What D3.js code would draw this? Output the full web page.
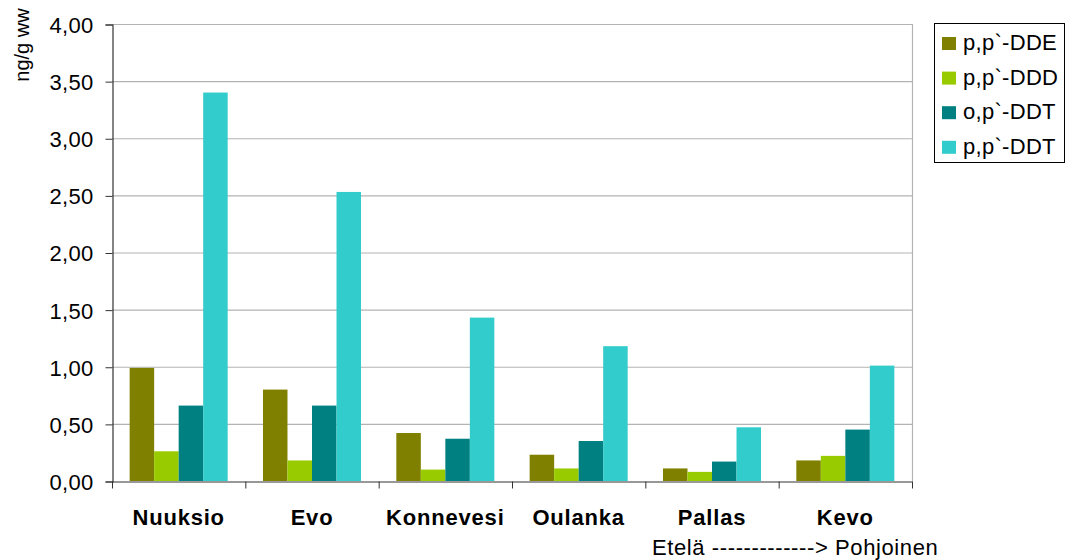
<!DOCTYPE html>
<html>
<head>
<meta charset="utf-8">
<script src="https://cdn.jsdelivr.net/npm/d3@7"></script>
<style>
  html, body { margin: 0; padding: 0; background: #fff; }
  svg { display: block; font-family: "Liberation Sans", Arial, sans-serif; }
</style>
</head>
<body>
<svg id="chart" width="1066" height="560"></svg>
<script>
// Sampling sites, south to north
const sites = ["Nuuksio", "Evo", "Konnevesi", "Oulanka", "Pallas", "Kevo"];
const seriesNames = ["p,p`-DDE", "p,p`-DDD", "o,p`-DDT", "p,p`-DDT"];
const seriesColors = ["#808000", "#99CC00", "#008080", "#33CCCC"];

// Concentrations, ng/g ww
const ppDDE = [0.99, 0.80, 0.42, 0.23, 0.11, 0.18];
const ppDDD = [0.26, 0.18, 0.10, 0.11, 0.08, 0.22];
const opDDT = [0.66, 0.66, 0.37, 0.35, 0.17, 0.45];
const ppDDT = [3.40, 2.53, 1.43, 1.18, 0.47, 1.01];

const yTicks = [0, 0.5, 1, 1.5, 2, 2.5, 3, 3.5, 4];
const yLabel = "ng/g ww";
const directionLabel = "Etelä -------------> Pohjoinen";

const seriesValues = [ppDDE, ppDDD, opDDT, ppDDT];
const rows = sites.map((s, i) => ({
  site: s,
  values: seriesNames.map((n, k) => ({ name: n, k, value: seriesValues[k][i] }))
}));

const svg = d3.select("#chart");
const plot = { left: 112, right: 912, top: 24, bottom: 481 };

const x = d3.scaleBand().domain(sites).range([plot.left, plot.right]).paddingInner(0).paddingOuter(0);
const gap = 1.44; // gap between clusters, in bar widths
const barW = x.bandwidth() / (seriesNames.length + gap);
const x1 = d3.scaleBand().domain(seriesNames)
  .range([barW * gap / 2, barW * gap / 2 + barW * seriesNames.length]).padding(0);
const y = d3.scaleLinear().domain([0, 4]).range([plot.bottom, plot.top]);

const fmt = v => d3.format(".2f")(v).replace(".", ",");

// Horizontal gridlines
svg.append("g")
  .selectAll("line")
  .data(yTicks.filter(t => t > 0))
  .join("line")
  .attr("x1", plot.left).attr("x2", plot.right)
  .attr("y1", d => y(d) + 0.5).attr("y2", d => y(d) + 0.5)
  .attr("stroke", "#b3b3b3").attr("stroke-width", 1.2);

// Plot area right border
svg.append("line")
  .attr("x1", plot.right + 0.5).attr("x2", plot.right + 0.5)
  .attr("y1", plot.top).attr("y2", plot.bottom)
  .attr("stroke", "#b3b3b3").attr("stroke-width", 1.2);

// Bars
svg.append("g")
  .selectAll("g")
  .data(rows)
  .join("g")
  .attr("transform", d => `translate(${x(d.site)},0)`)
  .selectAll("rect")
  .data(d => d.values)
  .join("rect")
  .attr("x", d => x1(d.name))
  .attr("width", x1.bandwidth())
  .attr("y", d => y(d.value))
  .attr("height", d => y(0) - y(d.value))
  .attr("fill", d => seriesColors[d.k]);

// Y axis
const yAxis = d3.axisLeft(y).tickValues(yTicks).tickFormat(fmt).tickSize(7).tickPadding(12);
const gy = svg.append("g")
  .attr("transform", `translate(${plot.left + 0.5},0.5)`)
  .call(yAxis);
gy.select(".domain").attr("stroke", "#333").attr("stroke-width", 1.2);
gy.selectAll(".tick line").attr("stroke", "#333");
gy.selectAll(".tick text")
  .attr("font-family", "'Liberation Sans', Arial, sans-serif")
  .attr("font-size", 22).attr("letter-spacing", 0.3)
  .attr("fill", "#000").attr("dy", "0.36em");

// X axis with ticks between categories
const xAxis = d3.axisBottom(x).tickSize(0).tickFormat("");
const gx = svg.append("g")
  .attr("transform", `translate(0,${plot.bottom + 0.5})`)
  .call(xAxis);
gx.select(".domain").attr("stroke", "#333").attr("stroke-width", 1.2);
gx.selectAll(".tick").remove();
gx.selectAll("line.sep")
  .data(sites.concat(["end"]))
  .join("line")
  .attr("class", "sep")
  .attr("x1", (d, i) => (i < sites.length ? x(d) : plot.right) + 0.5)
  .attr("x2", (d, i) => (i < sites.length ? x(d) : plot.right) + 0.5)
  .attr("y1", 0).attr("y2", 7)
  .attr("stroke", "#333");

// Category labels
svg.append("g")
  .selectAll("text")
  .data(sites)
  .join("text")
  .attr("x", d => x(d) + x.bandwidth() / 2)
  .attr("y", 525)
  .attr("text-anchor", "middle")
  .attr("font-size", 22)
  .attr("letter-spacing", 0.8)
  .attr("font-weight", "bold")
  .text(d => d);

// Direction note under the axis
svg.append("text")
  .attr("x", 652).attr("y", 555)
  .attr("font-size", 22)
  .attr("letter-spacing", 0.6)
  .text(directionLabel);

// Y axis title
svg.append("text")
  .attr("transform", "translate(29,45) rotate(-90)")
  .attr("text-anchor", "middle")
  .attr("font-size", 20)
  .text(yLabel);

// Legend
const lg = svg.append("g");
lg.append("rect")
  .attr("x", 934.5).attr("y", 23.5).attr("width", 130).attr("height", 139)
  .attr("fill", "#fff").attr("stroke", "#000").attr("stroke-width", 1);
const item = lg.selectAll("g.item")
  .data(seriesNames)
  .join("g")
  .attr("class", "item")
  .attr("transform", (d, i) => `translate(0,${43.5 + i * 34.6})`);
item.append("rect")
  .attr("x", 942).attr("y", -6.5).attr("width", 14).attr("height", 13)
  .attr("fill", (d, i) => seriesColors[i]);
item.append("text")
  .attr("x", 963).attr("y", 6.5)
  .attr("font-size", 22)
  .attr("letter-spacing", 0.3)
  .text(d => d);
</script>
</body>
</html>
